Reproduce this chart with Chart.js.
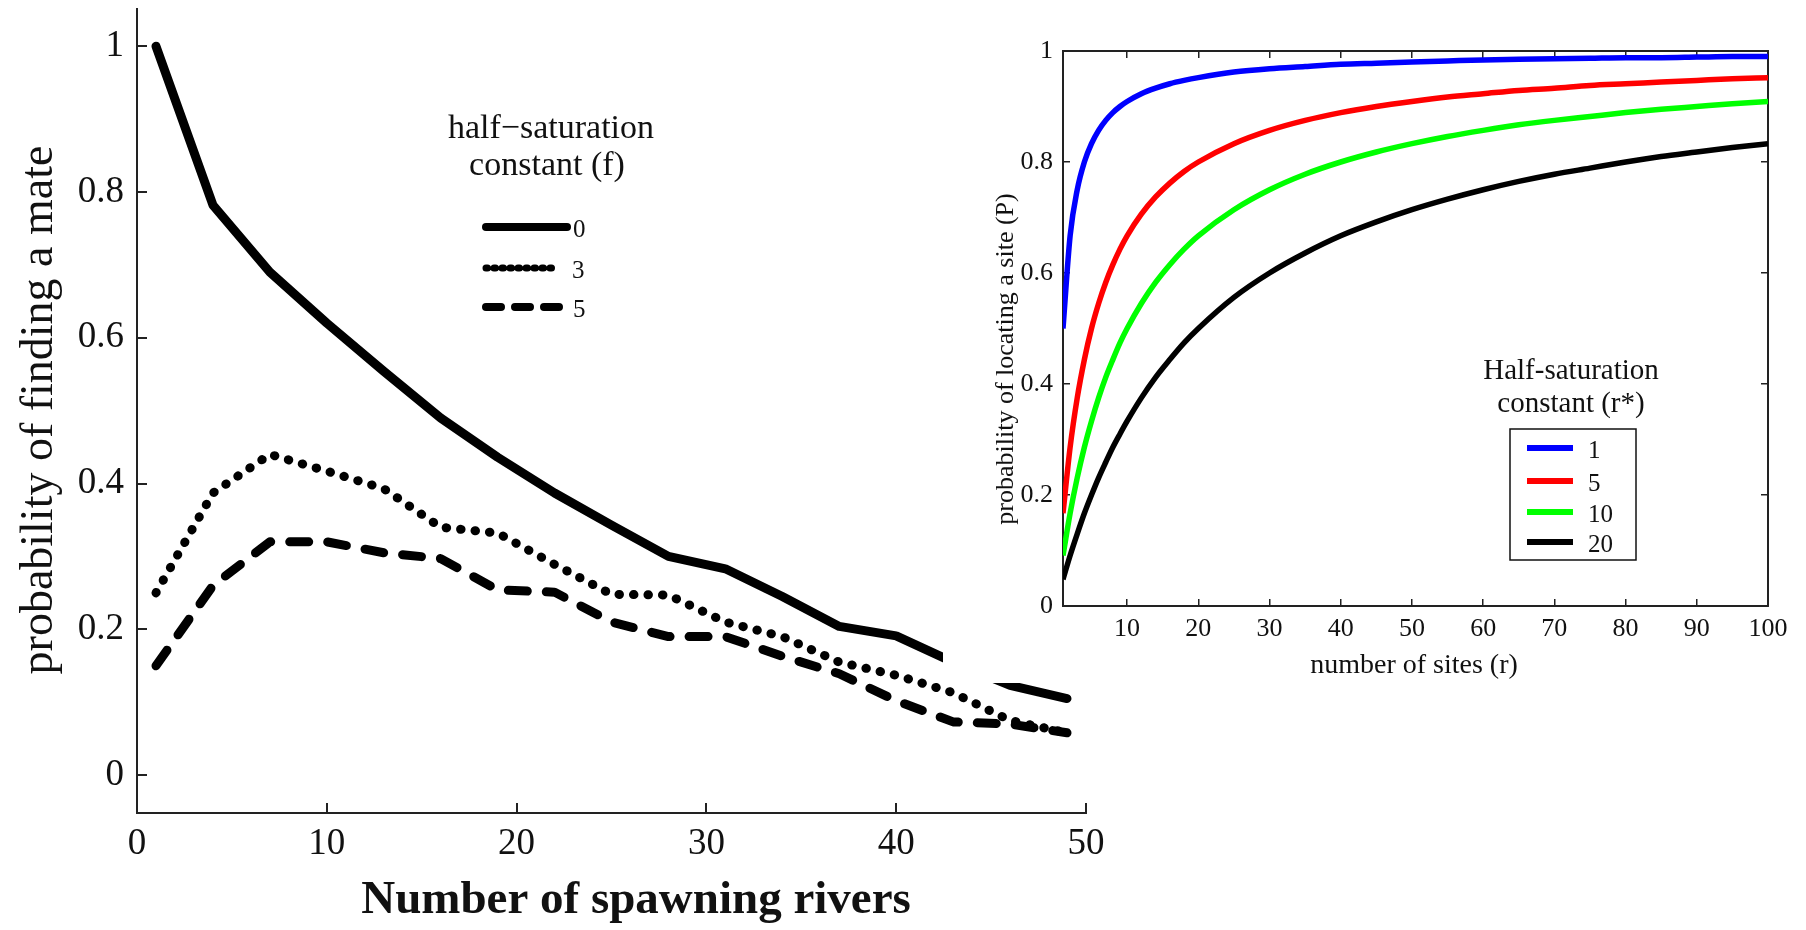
<!DOCTYPE html>
<html>
<head>
<meta charset="utf-8">
<script src="https://cdn.jsdelivr.net/npm/chart.js@4.4.1/dist/chart.umd.min.js"></script>
<style>
  html, body { margin: 0; padding: 0; background: #fff; }
  #wrap { position: relative; width: 1806px; height: 930px; overflow: hidden; }
  #left { position: absolute; left: 0; top: 0; }
  /* the right panel sits on a white sheet that hides a bit of the left plot */
  #right { position: absolute; left: 943px; top: 0; background: #fff; }
</style>
</head>
<body>
<div id="wrap">
  <canvas id="left" width="1806" height="930"></canvas>
  <canvas id="right" width="863" height="683"></canvas>
</div>
<script>
// ---- left panel: probability of finding a mate ----
const riverCounts = [1, 4, 7, 10, 13, 16, 19, 22, 25, 28, 31, 34, 37, 40, 43, 46, 49];
const mateF0 = [1.0, 0.782, 0.69, 0.62, 0.554, 0.49, 0.436, 0.387, 0.343, 0.30, 0.283, 0.245, 0.204, 0.191, 0.155, 0.123, 0.105];
const mateF3 = [0.25, 0.387, 0.44, 0.417, 0.393, 0.34, 0.332, 0.289, 0.248, 0.247, 0.21, 0.19, 0.155, 0.137, 0.113, 0.075, 0.058];
const mateF5 = [0.15, 0.26, 0.32, 0.32, 0.305, 0.297, 0.254, 0.251, 0.21, 0.19, 0.19, 0.163, 0.139, 0.102, 0.073, 0.07, 0.058];
const riverTicks = [0, 10, 20, 30, 40, 50];
const mateTicks = [0, 0.2, 0.4, 0.6, 0.8, 1];

// ---- right panel: probability of locating a site ----
const siteCounts = [1, 2, 3, 4, 5, 6, 7, 8, 9, 10, 12, 14, 16, 18, 20, 25, 30, 35, 40, 45, 50, 55, 60, 65, 70, 75, 80, 85, 90, 95, 100];
const locateR1 = [0.50, 0.667, 0.75, 0.80, 0.833, 0.857, 0.875, 0.889, 0.90, 0.909, 0.923, 0.933, 0.941, 0.947, 0.952, 0.962, 0.968, 0.972, 0.976, 0.978, 0.980, 0.982, 0.984, 0.985, 0.986, 0.987, 0.988, 0.988, 0.989, 0.990, 0.990];
const locateR5 = [0.167, 0.286, 0.375, 0.444, 0.50, 0.545, 0.583, 0.615, 0.643, 0.667, 0.706, 0.737, 0.762, 0.783, 0.80, 0.833, 0.857, 0.875, 0.889, 0.90, 0.909, 0.917, 0.923, 0.929, 0.933, 0.938, 0.941, 0.944, 0.947, 0.95, 0.952];
const locateR10 = [0.091, 0.167, 0.231, 0.286, 0.333, 0.375, 0.412, 0.444, 0.474, 0.50, 0.545, 0.583, 0.615, 0.643, 0.667, 0.714, 0.75, 0.778, 0.80, 0.818, 0.833, 0.846, 0.857, 0.867, 0.875, 0.882, 0.889, 0.895, 0.90, 0.905, 0.909];
const locateR20 = [0.048, 0.091, 0.13, 0.167, 0.20, 0.231, 0.259, 0.286, 0.31, 0.333, 0.375, 0.412, 0.444, 0.474, 0.50, 0.556, 0.60, 0.636, 0.667, 0.692, 0.714, 0.733, 0.75, 0.765, 0.778, 0.789, 0.80, 0.81, 0.818, 0.826, 0.833];
const siteTicks = [10, 20, 30, 40, 50, 60, 70, 80, 90, 100];
const locateTicks = [0, 0.2, 0.4, 0.6, 0.8, 1];

const SERIF = '"Liberation Serif", "Times New Roman", serif';
const INK = '#111';

const pts = (xs, ys) => xs.map((x, i) => ({ x: x, y: ys[i] }));

// fixed axis box: no extra room for labels that stick out at the ends
const fixBox = (w, h) => (s) => {
  if (w !== null) s.width = w;
  if (h !== null) s.height = h;
  s.paddingTop = 0; s.paddingBottom = 0; s.paddingLeft = 0; s.paddingRight = 0;
};
const useTicks = (values) => (s) => { s.ticks = values.map(v => ({ value: v })); };
const plainLabel = (v) => String(v);

// left legend + axis titles
const leftText = {
  id: 'leftText',
  afterDraw(chart) {
    const ctx = chart.ctx;
    ctx.save();
    ctx.fillStyle = INK;
    ctx.textAlign = 'center';

    ctx.font = '46px ' + SERIF;
    ctx.textBaseline = 'middle';
    ctx.save();
    ctx.translate(40, 410);
    ctx.rotate(-Math.PI / 2);
    ctx.fillText('probability of finding a mate', 0, 0);
    ctx.restore();

    ctx.textBaseline = 'alphabetic';
    ctx.font = 'bold 47px ' + SERIF;
    ctx.fillText('Number of spawning rivers', 636, 913);

    ctx.font = '34px ' + SERIF;
    ctx.fillText('half\u2212saturation', 551, 138);
    ctx.fillText('constant (f)', 547, 175);

    // legend samples
    const rows = [
      { y: 227, x2: 567, w: 8, dash: [] },
      { y: 268, x2: 553, w: 7, dash: [1.5, 6.5] },
      { y: 307, x2: 567, w: 8, dash: [15, 14] },
    ];
    ctx.strokeStyle = '#000';
    ctx.lineCap = 'round';
    rows.forEach((r, i) => {
      ctx.lineWidth = r.w;
      ctx.setLineDash(r.dash);
      ctx.beginPath();
      ctx.moveTo(486, r.y);
      ctx.lineTo(r.x2, r.y);
      ctx.stroke();
      ctx.setLineDash([]);
      ctx.font = '25px ' + SERIF;
      ctx.textAlign = 'left';
      ctx.fillText(chart.data.datasets[i].label, i === 1 ? 572 : 573, r.y + 10);
    });
    ctx.restore();
  }
};

// right legend + axis titles
const rightText = {
  id: 'rightText',
  afterDraw(chart) {
    const ctx = chart.ctx;
    ctx.save();
    ctx.fillStyle = INK;
    ctx.textAlign = 'center';
    ctx.textBaseline = 'middle';
    ctx.font = '26px ' + SERIF;
    ctx.save();
    ctx.translate(63, 359);
    ctx.rotate(-Math.PI / 2);
    ctx.fillText('probability of locating a site (P)', 0, 0);
    ctx.restore();

    ctx.textBaseline = 'alphabetic';
    ctx.font = '28px ' + SERIF;
    ctx.fillText('number of sites (r)', 471, 673);

    ctx.font = '29px ' + SERIF;
    ctx.fillText('Half-saturation', 628, 379);
    ctx.fillText('constant (r*)', 628, 412);

    // legend box
    ctx.fillStyle = '#fff';
    ctx.fillRect(567, 429, 126, 131);
    ctx.strokeStyle = '#111';
    ctx.lineWidth = 1.5;
    ctx.strokeRect(567, 429, 126, 131);

    const rowY = [448, 481, 512, 542];
    ctx.font = '25px ' + SERIF;
    ctx.textAlign = 'left';
    chart.data.datasets.forEach((ds, i) => {
      ctx.strokeStyle = ds.borderColor;
      ctx.lineWidth = 6;
      ctx.beginPath();
      ctx.moveTo(584, rowY[i]);
      ctx.lineTo(630, rowY[i]);
      ctx.stroke();
      ctx.fillStyle = INK;
      ctx.fillText(ds.label, 645, rowY[i] + 9.5);
    });
    ctx.restore();
  }
};

const tickFont = (size) => ({ family: SERIF, size: size });

new Chart(document.getElementById('left'), {
  type: 'line',
  data: {
    datasets: [
      { label: '0', data: pts(riverCounts, mateF0), borderColor: '#000', borderWidth: 9,
        borderCapStyle: 'round', borderJoinStyle: 'round', pointRadius: 0, tension: 0 },
      { label: '3', data: pts(riverCounts, mateF3), borderColor: '#000', borderWidth: 9,
        borderDash: [0.5, 14], borderCapStyle: 'round', borderJoinStyle: 'round', pointRadius: 0, tension: 0 },
      { label: '5', data: pts(riverCounts, mateF5), borderColor: '#000', borderWidth: 9,
        borderDash: [19, 19], borderCapStyle: 'round', borderJoinStyle: 'round', pointRadius: 0, tension: 0 },
    ]
  },
  options: {
    responsive: false,
    animation: false,
    devicePixelRatio: 1,
    layout: { padding: { left: 0, top: 9, right: 720, bottom: 0 } },
    plugins: { legend: { display: false }, tooltip: { enabled: false } },
    scales: {
      x: {
        type: 'linear', min: 0, max: 50,
        afterFit: fixBox(null, 117),
        afterBuildTicks: useTicks(riverTicks),
        grid: { drawOnChartArea: false, tickLength: -10, color: '#222', lineWidth: 2 },
        border: { color: '#222', width: 2 },
        ticks: { font: tickFont(37), color: INK, padding: 19, maxRotation: 0, autoSkip: false, callback: plainLabel }
      },
      y: {
        type: 'linear', min: -0.052, max: 1.051,
        afterFit: fixBox(137, null),
        afterBuildTicks: useTicks(mateTicks),
        grid: { drawOnChartArea: false, tickLength: -10, color: '#222', lineWidth: 2 },
        border: { color: '#222', width: 2 },
        ticks: { font: tickFont(37), color: INK, padding: 23, autoSkip: false, callback: plainLabel }
      }
    }
  },
  plugins: [leftText]
});

const boxTicks = { drawOnChartArea: false, tickLength: -7, color: '#222', lineWidth: 1.5 };

new Chart(document.getElementById('right'), {
  type: 'line',
  data: {
    datasets: [
      { label: '1', data: pts(siteCounts, locateR1), borderColor: '#0000ff' },
      { label: '5', data: pts(siteCounts, locateR5), borderColor: '#ff0000' },
      { label: '10', data: pts(siteCounts, locateR10), borderColor: '#00ff00' },
      { label: '20', data: pts(siteCounts, locateR20), borderColor: '#000000' },
    ].map(ds => Object.assign(ds, { borderWidth: 5.5, pointRadius: 0, cubicInterpolationMode: 'monotone' }))
  },
  options: {
    responsive: false,
    animation: false,
    devicePixelRatio: 1,
    layout: { padding: { left: 0, top: 51, right: 38, bottom: 0 } },
    plugins: { legend: { display: false }, tooltip: { enabled: false } },
    scales: {
      x: {
        type: 'linear', min: 1, max: 100,
        afterFit: fixBox(null, 77),
        afterBuildTicks: useTicks(siteTicks),
        grid: boxTicks,
        border: { color: '#222', width: 2 },
        ticks: { font: tickFont(26), color: INK, padding: 15, maxRotation: 0, autoSkip: false, callback: plainLabel }
      },
      xTop: {
        type: 'linear', position: 'top', min: 1, max: 100,
        afterFit: fixBox(null, 0),
        afterBuildTicks: useTicks(siteTicks),
        grid: boxTicks,
        border: { color: '#222', width: 2 },
        ticks: { display: false }
      },
      y: {
        type: 'linear', min: 0, max: 1,
        afterFit: fixBox(120, null),
        afterBuildTicks: useTicks(locateTicks),
        grid: boxTicks,
        border: { color: '#222', width: 2 },
        ticks: { font: tickFont(26), color: INK, padding: 17, autoSkip: false, callback: plainLabel }
      },
      yRight: {
        type: 'linear', position: 'right', min: 0, max: 1,
        afterFit: fixBox(0, null),
        afterBuildTicks: useTicks(locateTicks),
        grid: boxTicks,
        border: { color: '#222', width: 2 },
        ticks: { display: false }
      }
    }
  },
  plugins: [rightText]
});
</script>
</body>
</html>
